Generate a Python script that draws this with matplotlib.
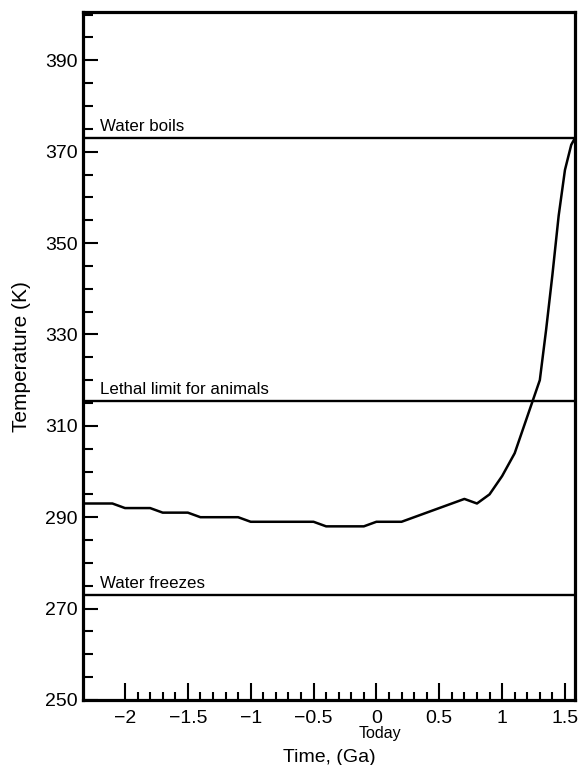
import numpy as np
import matplotlib.pyplot as plt
from matplotlib.ticker import FixedLocator, MultipleLocator

plt.rcParams['font.family'] = ['Liberation Sans', 'DejaVu Sans']

# Surface temperature history / projection (time in Ga, 0 = today)
time_ga = [-2.4, -2.3, -2.2, -2.1, -2.0, -1.9, -1.8, -1.7, -1.6, -1.5,
           -1.4, -1.3, -1.2, -1.1, -1.0, -0.9, -0.8, -0.7, -0.6, -0.5,
           -0.4, -0.3, -0.2, -0.1, 0.0, 0.1, 0.2, 0.3, 0.4, 0.5,
           0.6, 0.7, 0.8, 0.9, 1.0, 1.1, 1.2, 1.3, 1.35, 1.4,
           1.45, 1.5, 1.55, 1.58]
temp_k = [293, 293, 293, 293, 292, 292, 292, 291, 291, 291,
          290, 290, 290, 290, 289, 289, 289, 289, 289, 289,
          288, 288, 288, 288, 289, 289, 289, 290, 291, 292,
          293, 294, 293, 295, 299, 304, 312, 320, 331, 343,
          356, 366, 371.5, 373]

# Reference levels
ref_names = ["Water boils", "Lethal limit for animals", "Water freezes"]
ref_temps = [373, 315.5, 273]

x_major = [-2, -1.5, -1, -0.5, 0, 0.5, 1, 1.5]
x_labels = ["\u22122", "\u22121.5", "\u22121", "\u22120.5", "0", "0.5", "1", "1.5"]
y_major = [250, 270, 290, 310, 330, 350, 370, 390]

fig = plt.figure(figsize=(5.8, 7.65), dpi=100)
ax = fig.add_axes([0.1431, 0.0850, 0.8483, 0.8989])

ax.plot(time_ga, temp_k, color='black', lw=1.8, solid_joinstyle='round')

for name, t in zip(ref_names, ref_temps):
    ax.axhline(t, color='black', lw=1.7)
    ax.annotate(name, xy=(-2.2, t), xytext=(0, 2.5), textcoords='offset points',
                ha='left', va='bottom', fontsize=12.2)

ax.set_xlim(-2.334, 1.58)
ax.set_ylim(250, 400.5)

ax.xaxis.set_major_locator(FixedLocator(x_major))
ax.set_xticklabels(x_labels)
ax.xaxis.set_minor_locator(FixedLocator(np.round(np.arange(-2, 1.51, 0.1), 2)))
ax.yaxis.set_major_locator(FixedLocator(y_major))
ax.yaxis.set_minor_locator(MultipleLocator(5))

ax.tick_params(axis='both', which='both', direction='in', width=1.5,
               top=False, right=False, labelsize=14, color='black')
ax.tick_params(axis='x', which='major', length=12, pad=7.5)
ax.tick_params(axis='x', which='minor', length=6)
ax.tick_params(axis='y', which='major', length=11, pad=4)
ax.tick_params(axis='y', which='minor', length=7)

for sp in ax.spines.values():
    sp.set_linewidth(2.3)

ax.text(0.03, -0.038, "Today", transform=ax.get_xaxis_transform(),
        ha='center', va='top', fontsize=11.5)

ax.set_xlabel("Time, (Ga)", fontsize=14)
ax.xaxis.set_label_coords(0.5, -0.071)
ax.set_ylabel("Temperature (K)", fontsize=15)
ax.yaxis.set_label_coords(-0.106, 0.5)

fig.savefig("out.png", dpi=100)
